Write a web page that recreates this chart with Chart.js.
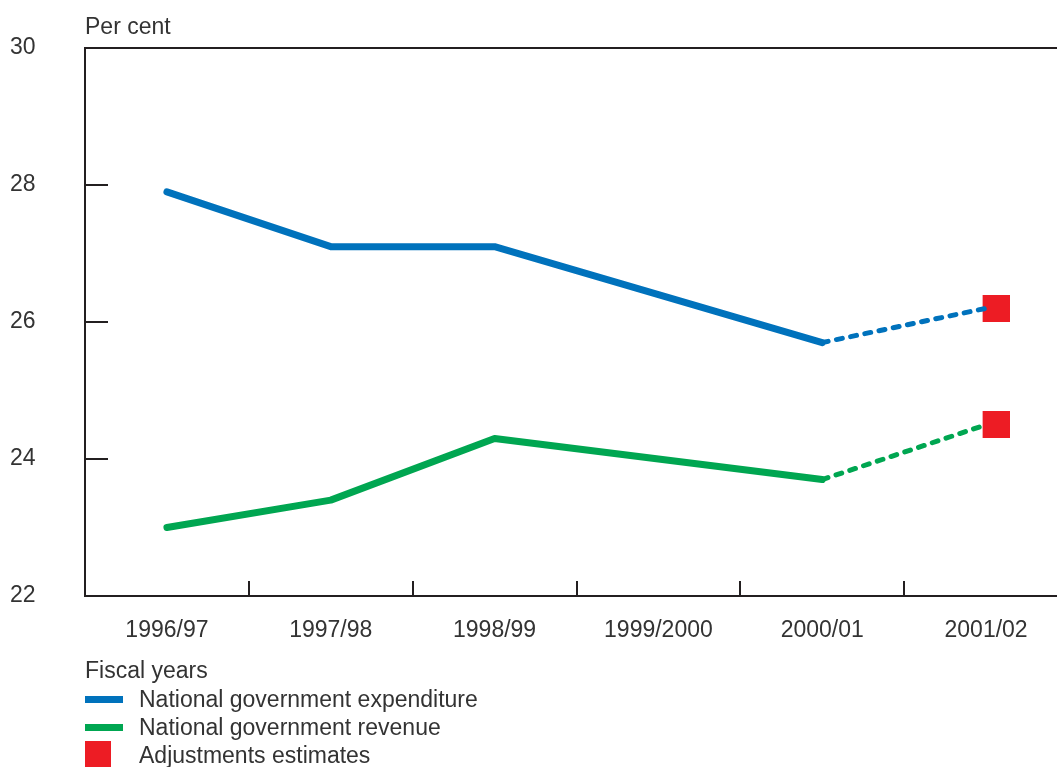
<!DOCTYPE html>
<html>
<head>
<meta charset="utf-8">
<script src="https://cdn.jsdelivr.net/npm/chart.js@4.4.1/dist/chart.umd.min.js"></script>
<style>
  html, body { margin: 0; padding: 0; background: #fff; overflow: hidden; width: 1057px; height: 767px; }
  #wrap { position: absolute; left: 0; top: 0; width: 1083px; height: 767px; }
  .txt { position: absolute; font-family: "Liberation Sans", Arial, sans-serif; font-size: 23px; color: #333; white-space: nowrap; line-height: 26px; }
  .sw { position: absolute; }
</style>
</head>
<body>
<div id="wrap"><canvas id="chart" width="1083" height="767"></canvas></div>
<div class="txt" style="left:85px; top:13px;">Per cent</div>
<div class="sw" style="left:85px; top:696px; width:38px; height:7px; background:#0072bc;"></div>
<div class="txt" style="left:139px; top:686px;">National government expenditure</div>
<div class="sw" style="left:85px; top:724px; width:38px; height:7px; background:#00a651;"></div>
<div class="txt" style="left:139px; top:714px;">National government revenue</div>
<div class="sw" style="left:85px; top:741px; width:26px; height:26px; background:#ed1c24;"></div>
<div class="txt" style="left:139px; top:742px;">Adjustments estimates</div>
<script>
// values (per cent)
const years = ['1996/97', '1997/98', '1998/99', '1999/2000', '2000/01', '2001/02'];
const expenditure = [27.9, 27.1, 27.1, 26.4, 25.7, 26.2];
const revenue = [23.0, 23.4, 24.3, 24.0, 23.7, 24.5];
const adjExpenditure = [null, null, null, null, null, 26.2];
const adjRevenue = [null, null, null, null, null, 24.5];
const yTicks = [22, 24, 26, 28, 30];

const BLUE = '#0072bc', GREEN = '#00a651', RED = '#ed1c24', INK = '#231f20';
const FONT = { family: '"Liberation Sans", Arial, sans-serif', size: 23 };

// red square, drawn a little right of the point like the original
const sq = document.createElement('canvas');
sq.width = 47; sq.height = 27;
const sctx = sq.getContext('2d');
sctx.fillStyle = RED;
sctx.fillRect(20, 0, 27, 27);

const estimateStart = 4; // segments from 2000/01 on are dashed

function lineSet(label, data, color) {
  return {
    label, data,
    borderColor: color,
    backgroundColor: color,
    borderWidth: 7,
    borderCapStyle: 'round',
    borderJoinStyle: 'round',
    pointRadius: 0,
    tension: 0,
    segment: {
      borderDash: ctx => ctx.p0DataIndex >= estimateStart ? [6, 8.5] : undefined,
      borderWidth: ctx => ctx.p0DataIndex >= estimateStart ? 5 : undefined
    }
  };
}

function squareSet(label, data) {
  return {
    label, data,
    showLine: false,
    clip: false,
    pointStyle: sq,
    pointRadius: 14,
    pointHoverRadius: 14,
    borderColor: RED,
    backgroundColor: RED
  };
}

// frame top line + inward tick marks
const frame = {
  id: 'frame',
  afterDraw(chart) {
    const { ctx, chartArea: a } = chart;
    const x = chart.scales.x, y = chart.scales.y;
    ctx.save();
    ctx.strokeStyle = INK;
    ctx.lineWidth = 2;
    ctx.beginPath();
    ctx.moveTo(a.left - 1, a.top);
    ctx.lineTo(a.right, a.top);
    y.ticks.forEach(t => {
      if (t.value === y.min || t.value === y.max) return;
      const py = Math.round(y.getPixelForValue(t.value));
      ctx.moveTo(a.left, py);
      ctx.lineTo(a.left + 23, py);
    });
    for (let i = 1; i < years.length; i++) {
      const px = Math.round((x.getPixelForTick(i - 1) + x.getPixelForTick(i)) / 2);
      ctx.moveTo(px, a.bottom);
      ctx.lineTo(px, a.bottom - 15);
    }
    ctx.stroke();
    ctx.restore();
  }
};

new Chart(document.getElementById('chart'), {
  type: 'line',
  data: {
    labels: years,
    datasets: [
      lineSet('National government expenditure', expenditure, BLUE),
      lineSet('National government revenue', revenue, GREEN),
      squareSet('Adjustments estimates', adjExpenditure),
      squareSet('Adjustments estimates', adjRevenue)
    ]
  },
  options: {
    responsive: false,
    animation: false,
    layout: { padding: { left: 10, top: 48, right: 6, bottom: 0 } },
    plugins: { legend: { display: false }, tooltip: { enabled: false } },
    scales: {
      x: {
        offset: true,
        grid: { display: false, drawTicks: false, offset: true },
        border: { display: true, color: INK, width: 2 },
        ticks: { color: '#333', font: FONT, padding: 21, maxRotation: 0, autoSkip: false },
        title: { display: true, text: 'Fiscal years', align: 'start', color: '#333', font: FONT, padding: { top: 0, bottom: 82 } },
        afterFit(scale) { scale.height = 171; }
      },
      y: {
        min: 22, max: 30,
        afterBuildTicks(scale) { scale.ticks = yTicks.map(v => ({ value: v })); },
        grid: { display: false, drawTicks: false },
        border: { display: true, color: INK, width: 2 },
        ticks: { color: '#333', font: FONT, crossAlign: 'far', padding: 0 },
        afterFit(scale) { scale.width = 75; }
      }
    }
  },
  plugins: [frame]
});
</script>
</body>
</html>
